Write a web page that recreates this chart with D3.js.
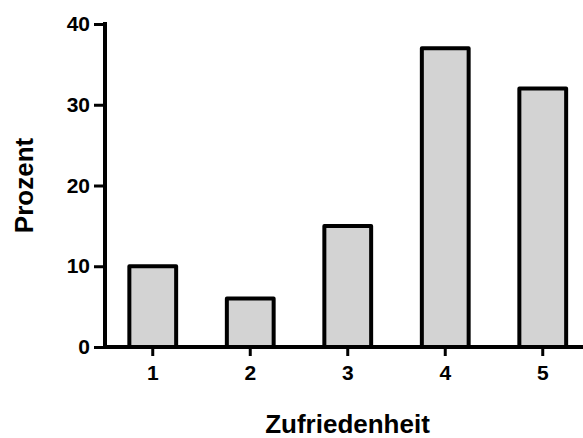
<!DOCTYPE html>
<html>
<head>
<meta charset="utf-8">
<script src="https://cdn.jsdelivr.net/npm/d3@7"></script>
<style>
  html, body { margin: 0; padding: 0; background: #fff; }
  svg { display: block; }
  text { font-family: "Liberation Sans", Arial, sans-serif; font-weight: bold; fill: #000; }
</style>
</head>
<body>
<svg id="chart" width="583" height="438"></svg>
<script>
// Zufriedenheit (1–5) and share of responses in percent
const categories = ["1", "2", "3", "4", "5"];
const values = [10, 6, 15, 37, 32];
const yTicks = [0, 10, 20, 30, 40];
const xTitle = "Zufriedenheit";
const yTitle = "Prozent";

const svg = d3.select("#chart");
const W = 583, H = 438;
const plotLeft = 104, plotRight = 591.5, plotTop = 24, plotBottom = 347;

const x = d3.scaleBand()
  .domain(categories)
  .range([plotLeft, plotRight])
  .paddingInner(0.52)
  .paddingOuter(0.26);

const y = d3.scaleLinear()
  .domain([0, 40])
  .range([plotBottom, plotTop]);

// Bars
svg.append("g")
  .selectAll("rect")
  .data(values)
  .join("rect")
  .attr("x", (d, i) => x(categories[i]))
  .attr("y", d => y(d))
  .attr("width", x.bandwidth())
  .attr("height", d => y(0) - y(d))
  .attr("fill", "#d3d3d3")
  .attr("stroke", "#000")
  .attr("stroke-width", 4)
  .attr("stroke-linejoin", "round");

// Y axis
const yAxis = svg.append("g")
  .attr("transform", `translate(${plotLeft + 1},0)`)
  .call(d3.axisLeft(y).tickValues(yTicks).tickSize(11).tickPadding(4).tickSizeOuter(0));
yAxis.select(".domain").attr("stroke", "#000").attr("stroke-width", 4)
  .attr("d", `M0,${plotTop - 2}V${plotBottom + 2}`);
yAxis.selectAll(".tick line").attr("stroke", "#000").attr("stroke-width", 3);
yAxis.selectAll(".tick text")
  .attr("font-size", 21)
  .attr("font-family", "Liberation Sans, Arial, sans-serif")
  .attr("font-weight", "bold")
  .attr("fill", "#000");

// X axis
const xAxis = svg.append("g")
  .attr("transform", `translate(0,${plotBottom})`)
  .call(d3.axisBottom(x).tickSize(9).tickPadding(9).tickSizeOuter(0));
xAxis.select(".domain").attr("stroke", "#000").attr("stroke-width", 4)
  .attr("d", `M${plotLeft - 1},0H${W}`);
xAxis.selectAll(".tick line").attr("stroke", "#000").attr("stroke-width", 3);
xAxis.selectAll(".tick text")
  .attr("font-size", 21)
  .attr("font-family", "Liberation Sans, Arial, sans-serif")
  .attr("font-weight", "bold")
  .attr("fill", "#000");

// Axis titles
svg.append("text")
  .attr("x", 347.5)
  .attr("y", 433)
  .attr("text-anchor", "middle")
  .attr("font-size", 26)
  .text(xTitle);

svg.append("text")
  .attr("transform", `translate(33,${(plotTop + plotBottom) / 2}) rotate(-90)`)
  .attr("text-anchor", "middle")
  .attr("font-size", 26)
  .text(yTitle);
</script>
</body>
</html>
